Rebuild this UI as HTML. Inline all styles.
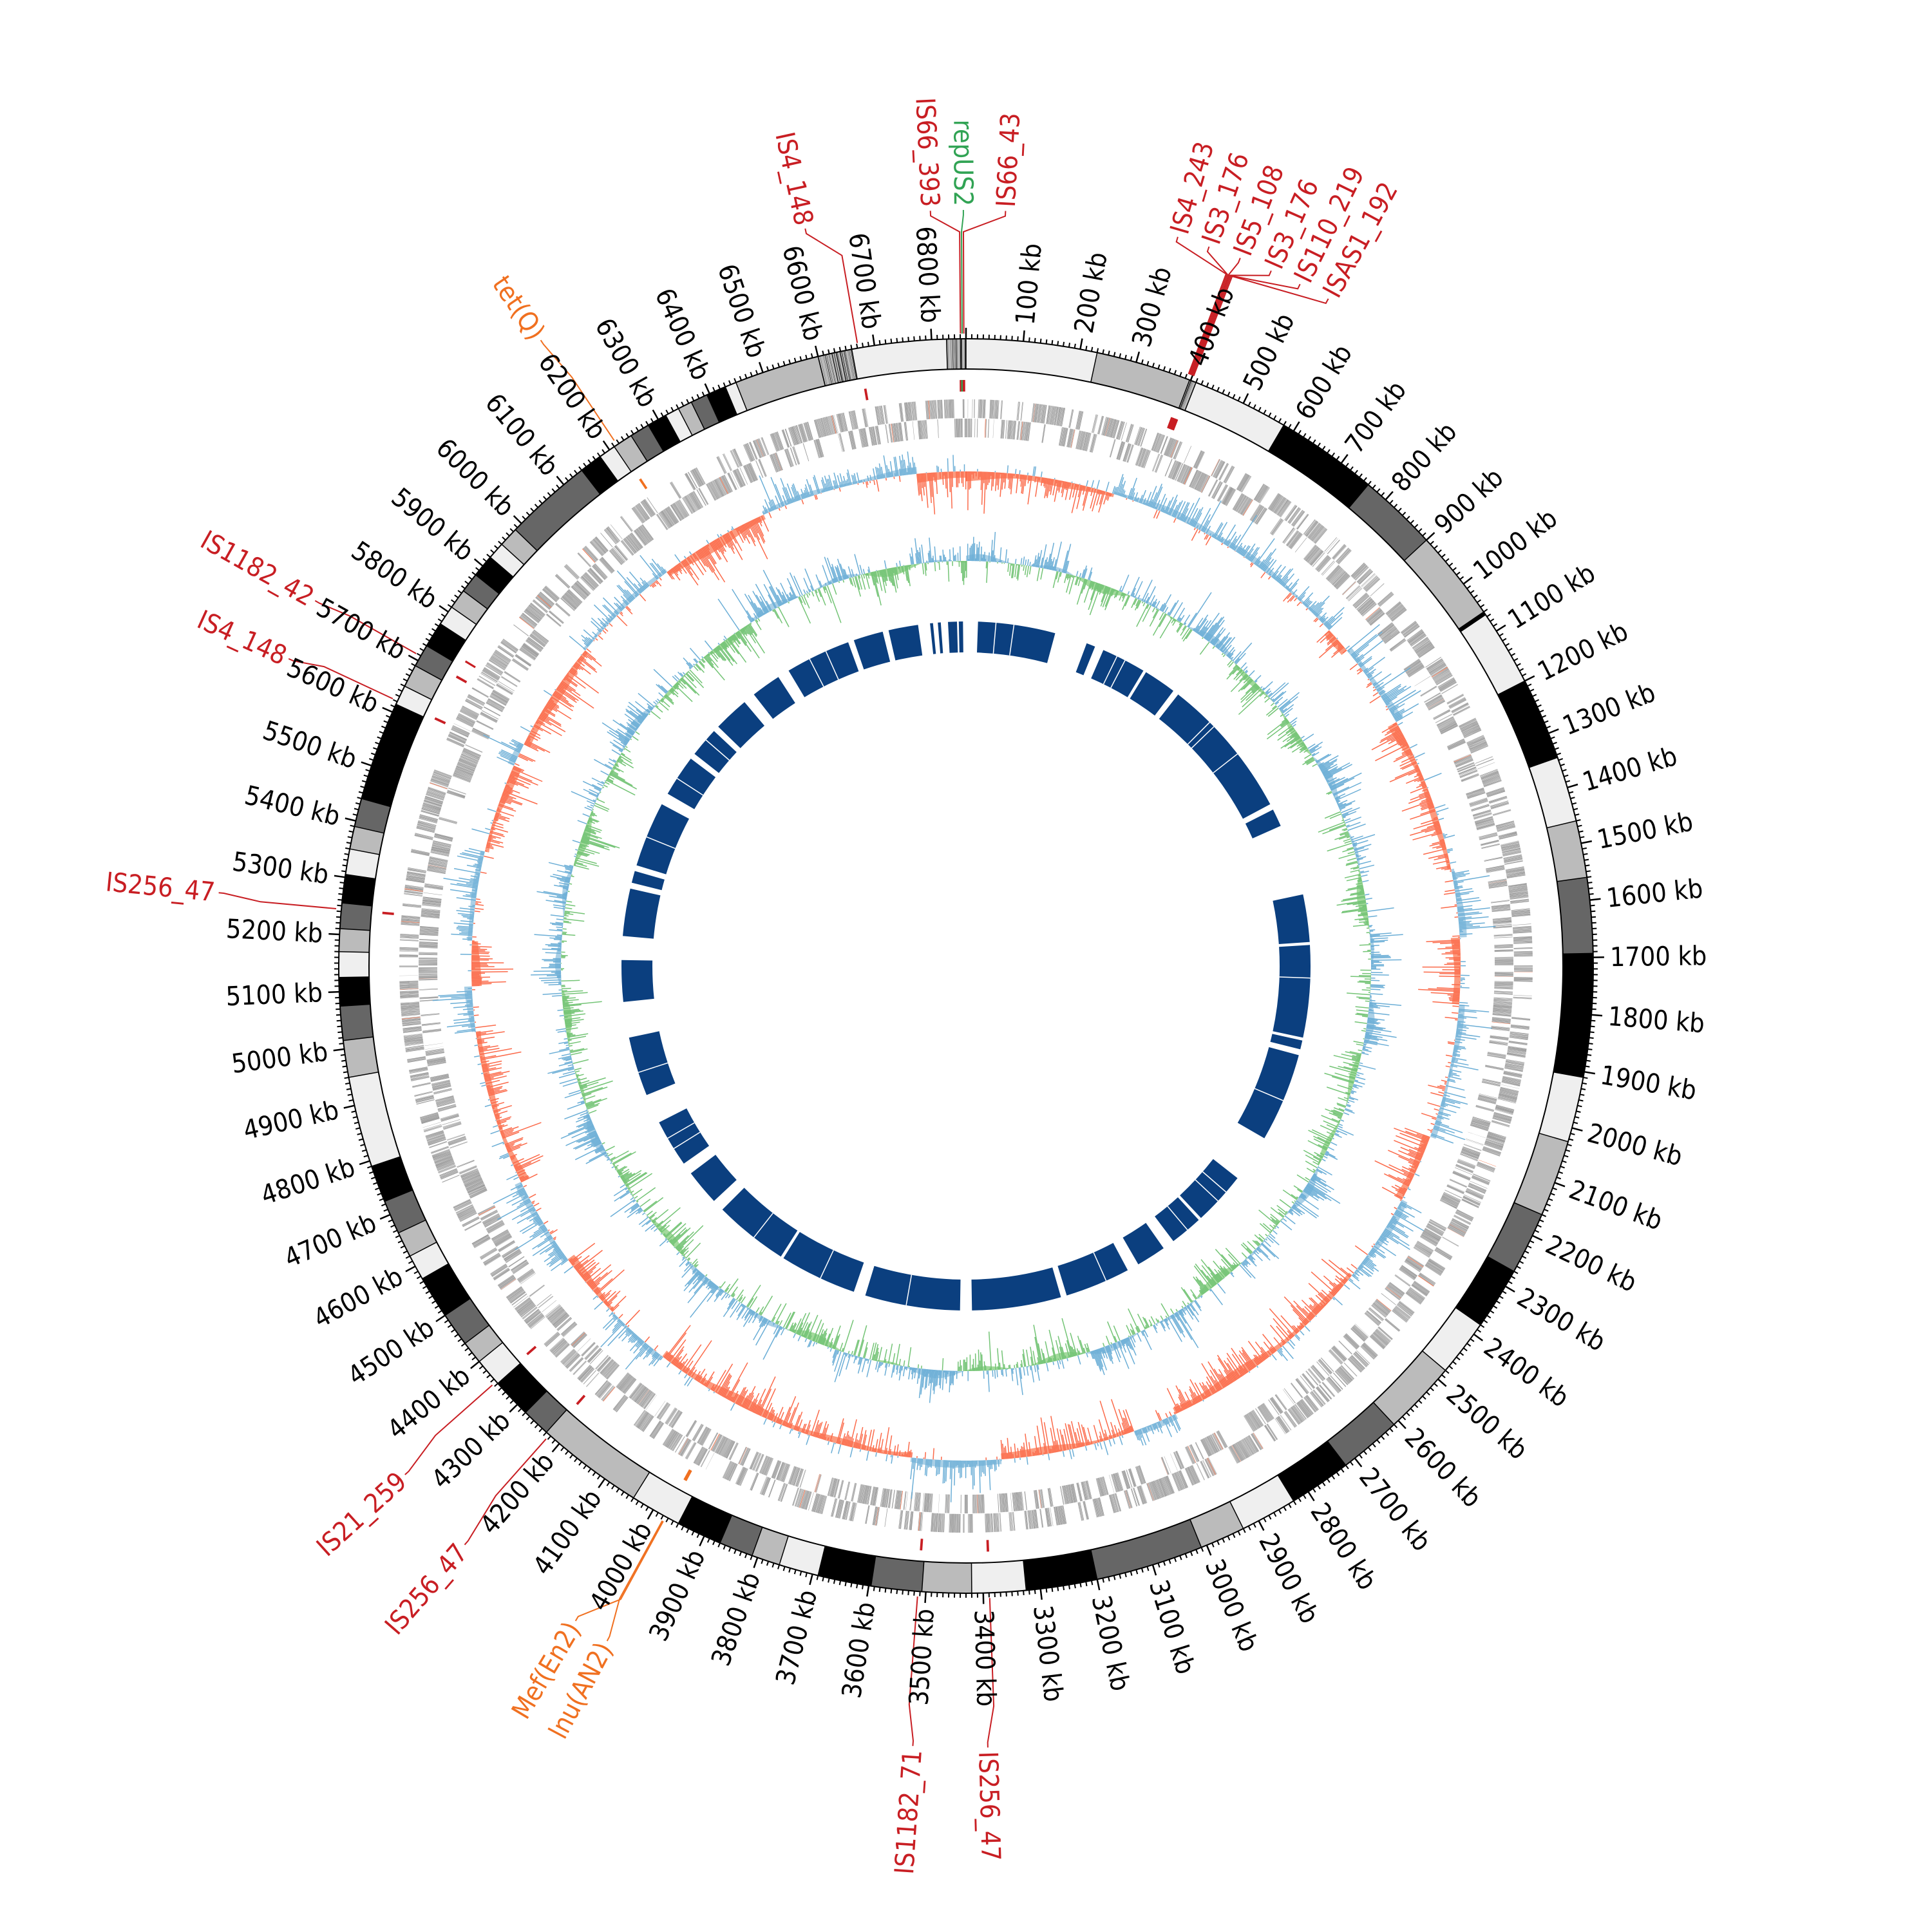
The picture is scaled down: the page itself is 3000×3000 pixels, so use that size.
<!DOCTYPE html>
<html><head><meta charset="utf-8">
<style>
html,body{margin:0;padding:0;background:#fff;}
svg{display:block;}
text{font-family:"DejaVu Sans Condensed","Liberation Sans Narrow","DejaVu Sans","Liberation Sans",sans-serif;font-size:41px;dominant-baseline:central;}
.r{text-anchor:start;fill:#000;}
.l{text-anchor:end;fill:#000;}
.is{fill:#c81e23;}
.og{fill:#f07020;}
.gr{fill:#31a354;}
</style></head>
<body>
<svg id="s" xmlns="http://www.w3.org/2000/svg" width="3000" height="3000" viewBox="0 0 3000 3000">
<rect width="3000" height="3000" fill="#fff"/>
<g id="gen"></g>
<g id="labels">
<text class="r" transform="rotate(-84.75 1500 1500)" x="2500" y="1500">100 kb</text>
<text class="r" transform="rotate(-79.50 1500 1500)" x="2500" y="1500">200 kb</text>
<text class="r" transform="rotate(-74.26 1500 1500)" x="2500" y="1500">300 kb</text>
<text class="r" transform="rotate(-69.01 1500 1500)" x="2500" y="1500">400 kb</text>
<text class="r" transform="rotate(-63.76 1500 1500)" x="2500" y="1500">500 kb</text>
<text class="r" transform="rotate(-58.51 1500 1500)" x="2500" y="1500">600 kb</text>
<text class="r" transform="rotate(-53.27 1500 1500)" x="2500" y="1500">700 kb</text>
<text class="r" transform="rotate(-48.02 1500 1500)" x="2500" y="1500">800 kb</text>
<text class="r" transform="rotate(-42.77 1500 1500)" x="2500" y="1500">900 kb</text>
<text class="r" transform="rotate(-37.52 1500 1500)" x="2500" y="1500">1000 kb</text>
<text class="r" transform="rotate(-32.27 1500 1500)" x="2500" y="1500">1100 kb</text>
<text class="r" transform="rotate(-27.03 1500 1500)" x="2500" y="1500">1200 kb</text>
<text class="r" transform="rotate(-21.78 1500 1500)" x="2500" y="1500">1300 kb</text>
<text class="r" transform="rotate(-16.53 1500 1500)" x="2500" y="1500">1400 kb</text>
<text class="r" transform="rotate(-11.28 1500 1500)" x="2500" y="1500">1500 kb</text>
<text class="r" transform="rotate(-6.03 1500 1500)" x="2500" y="1500">1600 kb</text>
<text class="r" transform="rotate(-0.79 1500 1500)" x="2500" y="1500">1700 kb</text>
<text class="r" transform="rotate(4.46 1500 1500)" x="2500" y="1500">1800 kb</text>
<text class="r" transform="rotate(9.71 1500 1500)" x="2500" y="1500">1900 kb</text>
<text class="r" transform="rotate(14.96 1500 1500)" x="2500" y="1500">2000 kb</text>
<text class="r" transform="rotate(20.20 1500 1500)" x="2500" y="1500">2100 kb</text>
<text class="r" transform="rotate(25.45 1500 1500)" x="2500" y="1500">2200 kb</text>
<text class="r" transform="rotate(30.70 1500 1500)" x="2500" y="1500">2300 kb</text>
<text class="r" transform="rotate(35.95 1500 1500)" x="2500" y="1500">2400 kb</text>
<text class="r" transform="rotate(41.20 1500 1500)" x="2500" y="1500">2500 kb</text>
<text class="r" transform="rotate(46.44 1500 1500)" x="2500" y="1500">2600 kb</text>
<text class="r" transform="rotate(51.69 1500 1500)" x="2500" y="1500">2700 kb</text>
<text class="r" transform="rotate(56.94 1500 1500)" x="2500" y="1500">2800 kb</text>
<text class="r" transform="rotate(62.19 1500 1500)" x="2500" y="1500">2900 kb</text>
<text class="r" transform="rotate(67.43 1500 1500)" x="2500" y="1500">3000 kb</text>
<text class="r" transform="rotate(72.68 1500 1500)" x="2500" y="1500">3100 kb</text>
<text class="r" transform="rotate(77.93 1500 1500)" x="2500" y="1500">3200 kb</text>
<text class="r" transform="rotate(83.18 1500 1500)" x="2500" y="1500">3300 kb</text>
<text class="r" transform="rotate(88.43 1500 1500)" x="2500" y="1500">3400 kb</text>
<text class="l" transform="rotate(-86.33 1500 1500)" x="500" y="1500">3500 kb</text>
<text class="l" transform="rotate(-81.08 1500 1500)" x="500" y="1500">3600 kb</text>
<text class="l" transform="rotate(-75.83 1500 1500)" x="500" y="1500">3700 kb</text>
<text class="l" transform="rotate(-70.58 1500 1500)" x="500" y="1500">3800 kb</text>
<text class="l" transform="rotate(-65.34 1500 1500)" x="500" y="1500">3900 kb</text>
<text class="l" transform="rotate(-60.09 1500 1500)" x="500" y="1500">4000 kb</text>
<text class="l" transform="rotate(-54.84 1500 1500)" x="500" y="1500">4100 kb</text>
<text class="l" transform="rotate(-49.59 1500 1500)" x="500" y="1500">4200 kb</text>
<text class="l" transform="rotate(-44.34 1500 1500)" x="500" y="1500">4300 kb</text>
<text class="l" transform="rotate(-39.10 1500 1500)" x="500" y="1500">4400 kb</text>
<text class="l" transform="rotate(-33.85 1500 1500)" x="500" y="1500">4500 kb</text>
<text class="l" transform="rotate(-28.60 1500 1500)" x="500" y="1500">4600 kb</text>
<text class="l" transform="rotate(-23.35 1500 1500)" x="500" y="1500">4700 kb</text>
<text class="l" transform="rotate(-18.11 1500 1500)" x="500" y="1500">4800 kb</text>
<text class="l" transform="rotate(-12.86 1500 1500)" x="500" y="1500">4900 kb</text>
<text class="l" transform="rotate(-7.61 1500 1500)" x="500" y="1500">5000 kb</text>
<text class="l" transform="rotate(-2.36 1500 1500)" x="500" y="1500">5100 kb</text>
<text class="l" transform="rotate(2.89 1500 1500)" x="500" y="1500">5200 kb</text>
<text class="l" transform="rotate(8.13 1500 1500)" x="500" y="1500">5300 kb</text>
<text class="l" transform="rotate(13.38 1500 1500)" x="500" y="1500">5400 kb</text>
<text class="l" transform="rotate(18.63 1500 1500)" x="500" y="1500">5500 kb</text>
<text class="l" transform="rotate(23.88 1500 1500)" x="500" y="1500">5600 kb</text>
<text class="l" transform="rotate(29.13 1500 1500)" x="500" y="1500">5700 kb</text>
<text class="l" transform="rotate(34.37 1500 1500)" x="500" y="1500">5800 kb</text>
<text class="l" transform="rotate(39.62 1500 1500)" x="500" y="1500">5900 kb</text>
<text class="l" transform="rotate(44.87 1500 1500)" x="500" y="1500">6000 kb</text>
<text class="l" transform="rotate(50.12 1500 1500)" x="500" y="1500">6100 kb</text>
<text class="l" transform="rotate(55.36 1500 1500)" x="500" y="1500">6200 kb</text>
<text class="l" transform="rotate(60.61 1500 1500)" x="500" y="1500">6300 kb</text>
<text class="l" transform="rotate(65.86 1500 1500)" x="500" y="1500">6400 kb</text>
<text class="l" transform="rotate(71.11 1500 1500)" x="500" y="1500">6500 kb</text>
<text class="l" transform="rotate(76.36 1500 1500)" x="500" y="1500">6600 kb</text>
<text class="l" transform="rotate(81.60 1500 1500)" x="500" y="1500">6700 kb</text>
<text class="l" transform="rotate(86.85 1500 1500)" x="500" y="1500">6800 kb</text>

<text class="l is" transform="rotate(87.3 1500 1500)" x="320" y="1500">IS66_393</text>
<text class="l gr" transform="rotate(89.8 1500 1500)" x="320" y="1500">repUS2</text>
<text class="r is" transform="rotate(-87 1500 1500)" x="2680" y="1500">IS66_43</text>
<text class="l is" transform="rotate(77.7 1500 1500)" x="322" y="1500">IS4_148</text>
<text class="r is" transform="rotate(-73.8 1500 1500)" x="2685" y="1500">IS4_243</text>
<text class="r is" transform="rotate(-71.33 1500 1500)" x="2685" y="1500">IS3_176</text>
<text class="r is" transform="rotate(-68.83 1500 1500)" x="2685" y="1500">IS5_108</text>
<text class="r is" transform="rotate(-66.3 1500 1500)" x="2685" y="1500">IS3_176</text>
<text class="r is" transform="rotate(-63.9 1500 1500)" x="2685" y="1500">IS110_219</text>
<text class="r is" transform="rotate(-61.5 1500 1500)" x="2685" y="1500">ISAS1_192</text>
<text class="l og" transform="rotate(55.8 1500 1500)" x="319" y="1500">tet(Q)</text>
<text class="l is" transform="rotate(29.3 1500 1500)" x="335" y="1500">IS1182_42</text>
<text class="l is" transform="rotate(24.4 1500 1500)" x="339" y="1500">IS4_148</text>
<text class="l is" transform="rotate(5.6 1500 1500)" x="328" y="1500">IS256_47</text>
<text class="l is" transform="rotate(-42.2 1500 1500)" x="318" y="1500">IS21_259</text>
<text class="l is" transform="rotate(-49.1 1500 1500)" x="305" y="1500">IS256_47</text>
<text class="l og" transform="rotate(-59.2 1500 1500)" x="310" y="1500">Mef(En2)</text>
<text class="l og" transform="rotate(-62 1500 1500)" x="307" y="1500">lnu(AN2)</text>
<text class="l is" transform="rotate(-86.1 1500 1500)" x="280" y="1500">IS1182_71</text>
<text class="r is" transform="rotate(88.4 1500 1500)" x="2720" y="1500">IS256_47</text>
</g>
</svg>
<script>
(function(){
const C=1500,T=6860;
let seed=12345;
function rnd(){seed|=0;seed=seed+0x6D2B79F5|0;let t=Math.imul(seed^seed>>>15,1|seed);t=t+Math.imul(t^t>>>7,61|t)^t;return((t^t>>>14)>>>0)/4294967296;}
function gauss(){return (rnd()+rnd()+rnd()+rnd()-2)*1.2;}
function P(a,r){const t=a*Math.PI/180;return (C+r*Math.sin(t)).toFixed(1)+' '+(C-r*Math.cos(t)).toFixed(1);}
function A(kb){return kb*360/T;}
function seg(a1,a2,r1,r2){const lg=(a2-a1)>180?1:0;return 'M'+P(a1,r2)+'A'+r2+' '+r2+' 0 '+lg+' 1 '+P(a2,r2)+'L'+P(a2,r1)+'A'+r1+' '+r1+' 0 '+lg+' 0 '+P(a1,r1)+'Z';}
function ln(a,r1,r2){return 'M'+P(a,r1)+'L'+P(a,r2);}
let out='';
function path(d,fill,stroke,sw){out+='<path d="'+d+'" fill="'+(fill||'none')+'"'+(stroke?' stroke="'+stroke+'" stroke-width="'+sw+'"':'')+'/>';}

const col={L:'#efefef',G:'#bbbbbb',D:'#666666',B:'#000000',S:'#bbbbbb'};
const bands=[[0,230,'L'],[230,398,'G'],[398,410,'S'],[410,580,'L'],[580,760,'B'],[760,900,'D'],[900,1060,'G'],[1060,1066,'B'],[1066,1200,'L'],[1200,1345,'B'],[1345,1460,'L'],[1460,1560,'G'],[1560,1693,'D'],[1693,1910,'B'],[1910,2025,'L'],[2025,2160,'G'],[2160,2270,'D'],[2270,2380,'B'],[2380,2480,'L'],[2480,2610,'G'],[2610,2720,'D'],[2720,2830,'B'],[2830,2930,'L'],[2930,3010,'G'],[3010,3200,'D'],[3200,3325,'B'],[3325,3420,'L'],[3420,3507,'G'],[3507,3596,'D'],[3596,3690,'B'],[3690,3760,'L'],[3760,3810,'G'],[3810,3870,'D'],[3870,3950,'B'],[3950,4040,'L'],[4040,4230,'G'],[4230,4280,'D'],[4280,4350,'B'],[4350,4400,'L'],[4400,4440,'G'],[4440,4500,'D'],[4500,4575,'B'],[4575,4620,'L'],[4620,4665,'G'],[4665,4725,'D'],[4725,4790,'B'],[4790,4950,'L'],[4950,5015,'G'],[5015,5075,'D'],[5075,5125,'B'],[5125,5170,'L'],[5170,5210,'G'],[5210,5255,'D'],[5255,5305,'B'],[5305,5350,'L'],[5350,5390,'G'],[5390,5440,'D'],[5440,5615,'B'],[5615,5650,'L'],[5650,5690,'G'],[5690,5730,'D'],[5730,5775,'B'],[5775,5810,'L'],[5810,5845,'G'],[5845,5880,'D'],[5880,5920,'B'],[5920,5950,'L'],[5950,5985,'G'],[5985,6140,'D'],[6140,6180,'B'],[6180,6210,'L'],[6210,6245,'G'],[6245,6280,'D'],[6280,6315,'B'],[6315,6340,'L'],[6340,6365,'G'],[6365,6395,'D'],[6395,6430,'B'],[6430,6450,'L'],[6450,6600,'G'],[6600,6660,'S'],[6660,6826,'L'],[6826,6860,'S']];
const R1=927,R2=974;
let bd='';
bands.forEach(b=>{path(seg(A(b[0]),A(b[1]),R1,R2),col[b[2]]);bd+=ln(A(b[0]),R1,R2);
 if(b[2]=='S'){let s='';for(let k=b[0];k<b[1];k+=1+rnd()*3){if(rnd()<0.6){s+=seg(A(k),A(k+0.4+rnd()*1.2),R1,R2);}}path(s,'#000');
 let s2='';for(let k=b[0];k<b[1];k+=2+rnd()*5){s2+=seg(A(k),A(k+0.6),R1,R2);}path(s2,'#666');}
});
path(bd,null,'#000',1.5);
out+='<circle cx="1500" cy="1500" r="'+R1+'" fill="none" stroke="#000" stroke-width="2"/>';
out+='<circle cx="1500" cy="1500" r="'+R2+'" fill="none" stroke="#000" stroke-width="2"/>';
let tk='',tM='';
for(let k=0;k<T;k+=10){if(k%100==0)tM+=ln(A(k),R2,R2+17);else tk+=ln(A(k),R2,R2+7);}
path(tk,null,'#000',2);path(tM,null,'#000',2.5);

// genes
let g1='',g2='';let kb=0,strand=rnd()<0.5;
while(kb<T){if(rnd()<0.1)strand=!strand;const len=0.3+rnd()*0.9;let gap=0.1+rnd()*0.3;if(rnd()<0.02)gap+=rnd()*4;
 const a1=A(kb),a2=A(Math.min(T,kb+len));const d=seg(a1,a2,strand?851:821,strand?880:850);
 if(rnd()<0.012)g2+=d;else g1+=d;kb+=len+gap;}
path(g1,'#9a9a9a');path(g2,'#f46d43');

// track 1
const red=[[6750,6860],[0,330],[900,960],[1150,1500],[1650,1800],[2100,2250],[2450,2950],[3050,3350],[3550,4150],[4300,4450],[4650,5000],[5100,5200],[5400,5600],[5650,5900],[6150,6400]];
function inRed(k){return red.some(r=>k>=r[0]&&k<r[1]);}
const ph=[rnd()*6,rnd()*6,rnd()*6,rnd()*6];
function sm(k,o){return 0.5+0.25*Math.sin(k/37+ph[o])+0.25*Math.sin(k/91+ph[o+1]);}
function m1(k){return inRed(k)?-(6+16*sm(k,0)):(5+12*sm(k,0));}
let f1b='',f1r='',l1b='',l1r='';const B1=768;
for(let k=0;k<T;k+=4){const m=m1(k)*0.7;const a1=A(k),a2=A(k+4);
 if(m>0)f1b+=seg(a1,a2,B1,B1+m);else f1r+=seg(a1,a2,B1+m,B1);}
for(let k=0;k<T;k+=3){const m=m1(k);let v=m+gauss()*20;if(rnd()<0.15)v+=(m>0?1:-1)*rnd()*40;
 v=Math.max(-65,Math.min(65,v));const a=A(k+1.5);if(v>0)l1b+=ln(a,B1,B1+v);else l1r+=ln(a,B1+v,B1);}
path(f1b,'#a9cfe6');path(f1r,'#fc9a7e');path(l1b,null,'#6baed6',1.5);path(l1r,null,'#fb6a4a',1.5);

// track 2
let f2b='',f2g='',l2b='',l2g='';const B2=629;
for(let k=0;k<T;k+=4){const m=(sm(k,2)-0.5)*26;const a1=A(k),a2=A(k+4);
 if(m>0)f2b+=seg(a1,a2,B2,B2+m);else f2g+=seg(a1,a2,B2+m,B2);}
for(let k=0;k<T;k+=3){const m=(sm(k,2)-0.5)*40;let v=m+gauss()*22;if(rnd()<0.15)v+=(rnd()<0.5?1:-1)*rnd()*40;
 v=Math.max(-62,Math.min(65,v));const a=A(k+1.5);if(v>0)l2b+=ln(a,B2,B2+v);else l2g+=ln(a,B2+v,B2);}
path(f2b,'#a9cfe6');path(f2g,'#a1d99b');path(l2b,null,'#6baed6',1.5);path(l2g,null,'#74c476',1.5);

// inner blocks
const blk=[[2,15],[20.5,22],[23.5,31],[31.5,37],[38,62],[63,66],[78,86],[86.5,102],[102.5,104],[105,120],[128,137],[137.5,143],[145,150],[152,163],[164,179],[181,197],[199,212],[212.5,225],[227,233],[235,243],[248,258],[264,271],[275,283],[284,286],[287,298],[300,307],[308,313],[314,320],[322,327],[329,340],[341,346],[347,352],[354,354.5],[355.3,355.8],[357,358.5],[358.8,359.5]];
let bk='';blk.forEach(b=>{bk+=seg(b[0],b[1],487,535);});path(bk,'#0b3f7f');
let wl='';[5,8,26,27.5,45,46,52,92,113,131,133,140,156,190,205,218,238,240,252,292,303,311,333,336].forEach(a=>{wl+=ln(a,487,535);});path(wl,null,'#fff',1.5);

// features
const feats=[[359.5,357.3,1180,1140,'#c81e23'],[359.65,359.8,1180,1140,'#31a354'],[359.8,3.0,1180,1140,'#c81e23'],[350.1,347.7,1178,1120,'#c81e23'],
[20.6,16.2,1185,1148,'#c81e23'],[20.7,18.67,1185,1148,'#c81e23'],[20.8,21.17,1185,1148,'#c81e23'],[20.9,23.7,1185,1148,'#c81e23'],[21.0,26.1,1185,1148,'#c81e23'],[21.1,28.5,1185,1148,'#c81e23'],
[326.2,325.8,1181,1100,'#f07020'],[299.6,299.3,1165,1100,'#c81e23'],[295,294.4,1161,1100,'#c81e23'],[275.2,275.6,1172,1100,'#c81e23'],[228.5,227.8,1182,1100,'#c81e23'],[221.6,220.9,1195,1100,'#c81e23'],
[208.6,210.8,1190,1120,'#f07020'],[208.7,208.0,1193,1120,'#f07020'],[184.4,183.9,1220,1150,'#c81e23'],[177.85,178.4,1220,1150,'#c81e23']];
feats.forEach(f=>{path('M'+P(f[0],982)+'L'+P(f[0],f[3])+'L'+P(f[1],f[2]-14)+'L'+P(f[1],f[2]-6),null,f[4],2);
 path(seg(f[0]-0.12,f[0]+0.12,892,910),f[4]);});
path(seg(A(5742)-0.1,A(5742)+0.1,892,910),'#c81e23');
document.getElementById('gen').innerHTML=out;
})();
</script>
</body></html>
